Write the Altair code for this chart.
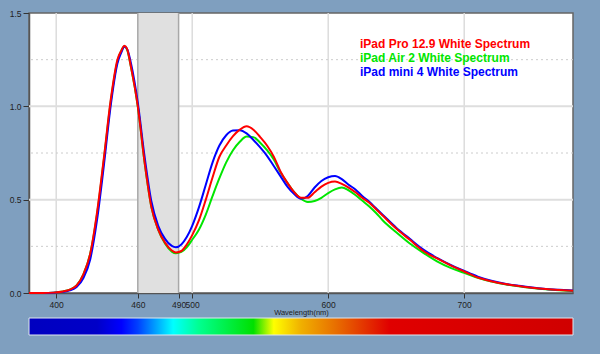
import altair as alt
import pandas as pd

# ---------------- data ----------------
wavelength = [380, 390, 398, 405, 410, 415, 420, 425, 430, 435, 440, 445, 448, 450, 452, 455,
              460, 465, 470, 475, 480, 485, 488, 492, 496, 500, 505, 510, 515, 520, 525, 530,
              535, 540, 545, 550, 555, 560, 565, 570, 575, 580, 585, 590, 595, 600, 605, 610,
              615, 620, 625, 630, 635, 640, 650, 660, 670, 680, 690, 700, 710, 720, 730, 740,
              750, 760, 770, 780]

ipad_pro = [0.0, 0.0, 0.002, 0.008, 0.018, 0.04, 0.10, 0.21, 0.43, 0.72, 1.03, 1.25, 1.30, 1.325, 1.31, 1.21,
            1.00, 0.70, 0.46, 0.34, 0.27, 0.228, 0.217, 0.225, 0.26, 0.31, 0.39, 0.50, 0.62, 0.73, 0.79, 0.84,
            0.875, 0.893, 0.875, 0.835, 0.79, 0.73, 0.65, 0.59, 0.54, 0.51, 0.51, 0.54, 0.57, 0.59, 0.597, 0.585,
            0.565, 0.54, 0.51, 0.485, 0.45, 0.415, 0.345, 0.285, 0.225, 0.185, 0.148, 0.115, 0.083, 0.063, 0.048, 0.037,
            0.028, 0.021, 0.016, 0.012]

ipad_air2 = [0.0, 0.0, 0.002, 0.008, 0.018, 0.04, 0.10, 0.21, 0.42, 0.71, 1.02, 1.24, 1.30, 1.32, 1.305, 1.21,
             1.00, 0.70, 0.46, 0.34, 0.265, 0.222, 0.213, 0.22, 0.245, 0.285, 0.34, 0.42, 0.52, 0.615, 0.70, 0.765,
             0.81, 0.838, 0.835, 0.805, 0.765, 0.715, 0.645, 0.59, 0.54, 0.505, 0.488, 0.493, 0.51, 0.535, 0.555, 0.565,
             0.55, 0.525, 0.495, 0.465, 0.43, 0.39, 0.325, 0.265, 0.215, 0.17, 0.135, 0.108, 0.081, 0.061, 0.047, 0.036,
             0.027, 0.02, 0.015, 0.011]

ipad_mini4 = [0.0, 0.0, 0.001, 0.006, 0.014, 0.032, 0.08, 0.18, 0.39, 0.68, 1.00, 1.23, 1.29, 1.32, 1.31, 1.23,
              1.02, 0.73, 0.49, 0.36, 0.29, 0.252, 0.245, 0.26, 0.30, 0.36, 0.46, 0.58, 0.70, 0.79, 0.845, 0.87,
              0.872, 0.855, 0.82, 0.78, 0.735, 0.68, 0.625, 0.57, 0.53, 0.505, 0.52, 0.565, 0.60, 0.62, 0.627, 0.61,
              0.58, 0.555, 0.52, 0.49, 0.455, 0.42, 0.35, 0.29, 0.232, 0.188, 0.15, 0.118, 0.088, 0.066, 0.05, 0.039,
              0.03, 0.022, 0.017, 0.013]

series_names = ["iPad Pro 12.9 White Spectrum", "iPad Air 2 White Spectrum", "iPad mini 4 White Spectrum"]
series_colors = ["#ff0000", "#00e600", "#0000ff"]

x_ticks = [400, 460, 490, 500, 600, 700]
y_ticks = [0.0, 0.5, 1.0, 1.5]
grid_x = [400, 500, 600, 700]
grid_y_solid = [0.5, 1.0]
grid_y_dotted = [0.25, 0.75, 1.25]
band = [460, 490]

spectrum_stops_nm = [380, 430, 448, 460, 486, 505, 545, 560, 580, 605, 645, 780]
spectrum_stops_color = ["#0000c0", "#0000c8", "#0000ff", "#0040ff", "#00ffff", "#00ff90",
                        "#00e000", "#ffff00", "#f0b000", "#e87000", "#e00000", "#d00000"]

# ---------------- tables ----------------
rows = []
for name, vals in zip(series_names, [ipad_pro, ipad_air2, ipad_mini4]):
    for w, v in zip(wavelength, vals):
        rows.append({"wl": w, "val": v, "series": name})
df = pd.DataFrame(rows)

xmin, xmax = 380, 780
xscale = alt.Scale(domain=[xmin, xmax], nice=False, zero=False)
yscale = alt.Scale(domain=[0, 1.5], nice=False, zero=False)

FONT = "Liberation Sans"

xaxis = alt.Axis(values=x_ticks, grid=False, labelOverlap=False, labelFlush=False,
                 tickSize=5, tickColor="#333", domainColor="#555", domainWidth=1.5,
                 labelFontSize=8.5, labelColor="#222", labelFont=FONT, labelPadding=2,
                 title="Wavelength(nm)", titleFontSize=7.5, titleFontWeight="normal",
                 titleColor="#222", titleFont=FONT, titlePadding=0)
yaxis = alt.Axis(values=y_ticks, format=".1f", grid=False, tickSize=6, tickColor="#333",
                 domainColor="#555", domainWidth=1.5, labelFontSize=8.5, labelColor="#222",
                 labelFont=FONT, labelPadding=2, title=None)

gx = alt.Chart(pd.DataFrame({"x": grid_x})).mark_rule(color="#dcdcdc", strokeWidth=1.5).encode(
    x=alt.X("x:Q", scale=xscale, axis=xaxis))
gys = alt.Chart(pd.DataFrame({"y": grid_y_solid})).mark_rule(color="#dedede", strokeWidth=2).encode(
    y=alt.Y("y:Q", scale=yscale, axis=yaxis))
gyd = alt.Chart(pd.DataFrame({"y": grid_y_dotted})).mark_rule(
    color="#cccccc", strokeWidth=1, strokeDash=[2, 3]).encode(y=alt.Y("y:Q", scale=yscale))

band_df = pd.DataFrame({"a": [band[0]], "b": [band[1]]})
band_rect = alt.Chart(band_df).mark_rect(color="#e0e0e0").encode(
    x=alt.X("a:Q", scale=xscale), x2="b:Q")
band_edges = alt.Chart(pd.DataFrame({"x": band})).mark_rule(color="#a8a8a8", strokeWidth=1.5).encode(
    x=alt.X("x:Q", scale=xscale))

line_layers = []
for name in [series_names[1], series_names[2], series_names[0]]:
    line_layers.append(
        alt.Chart(df[df["series"] == name]).mark_line(strokeWidth=2, interpolate="monotone").encode(
            x=alt.X("wl:Q", scale=xscale),
            y=alt.Y("val:Q", scale=yscale),
            color=alt.Color("series:N", scale=alt.Scale(domain=series_names, range=series_colors), legend=None),
        )
    )

# legend texts
legend_layers = []
for i, (name, col) in enumerate(zip(series_names, series_colors)):
    legend_layers.append(
        alt.Chart(pd.DataFrame({"t": [name]})).mark_text(
            align="left", baseline="middle", font=FONT, fontSize=12, fontWeight="bold", color=col
        ).encode(text="t:N", x=alt.value(331), y=alt.value(31 + 14 * i))
    )

# colour bar under the axis
gradient = alt.LinearGradient(
    gradient="linear",
    stops=[alt.GradientStop(color=c, offset=(w - xmin) / (xmax - xmin))
           for w, c in zip(spectrum_stops_nm, spectrum_stops_color)],
    x1=0, x2=1, y1=0, y2=0)
cbar = alt.Chart(pd.DataFrame({"a": [xmin], "b": [xmax]})).mark_rect(
    color=gradient, stroke="#dfe7ef", strokeWidth=1).encode(
    x=alt.X("a:Q", scale=xscale), x2="b:Q", y=alt.value(305), y2=alt.value(322))

chart = alt.layer(gx, gys, gyd, band_rect, band_edges, *line_layers, *legend_layers, cbar).properties(
    width=544, height=280,
    background="#7f9fbf",
    padding={"left": 29, "top": 13, "right": 27, "bottom": 61},
    autosize=alt.AutoSizeParams(type="none"),
).configure_view(fill="white", stroke="#666", strokeWidth=1.5)

chart.save("out.html", embed_options={"renderer": "svg", "actions": False})
